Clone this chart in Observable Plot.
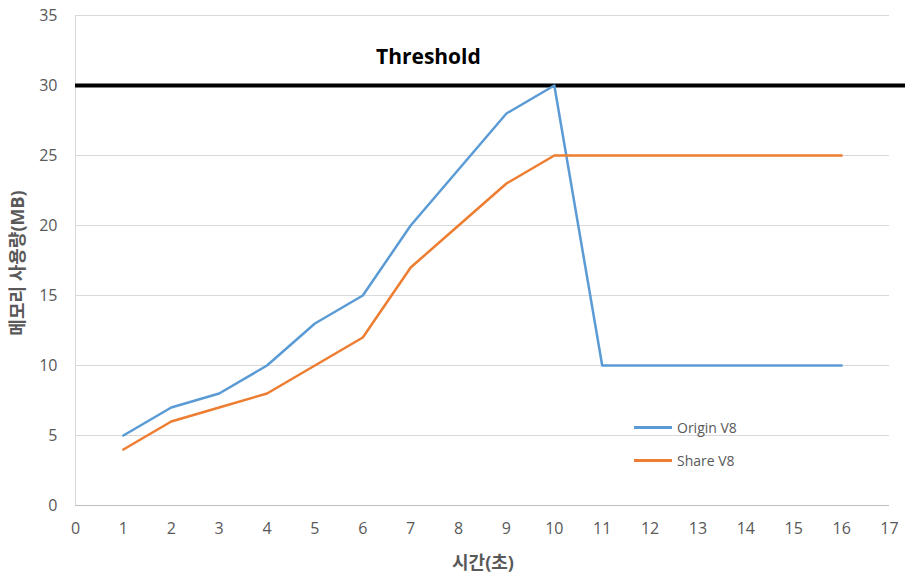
<!DOCTYPE html>
<html>
<head>
<meta charset="utf-8">
<script src="https://cdn.jsdelivr.net/npm/d3@7"></script>
<script src="https://cdn.jsdelivr.net/npm/@observablehq/plot@0.6"></script>
<style>
  html, body { margin: 0; padding: 0; background: #fff; }
  #wrap { position: relative; width: 905px; height: 577px; font-family: "Open Sans", "Noto Sans CJK KR", sans-serif; }
  #legend { position: absolute; left: 634px; top: 411px; font-size: 14px; color: #595959; }
  #legend .item { display: flex; align-items: center; height: 33px; }
  #legend .sw { width: 38px; height: 3px; margin-right: 5px; }
</style>
</head>
<body>
<div id="wrap"><div id="chart"></div><div id="legend"></div></div>
<script>
// Data
const seconds = [1, 2, 3, 4, 5, 6, 7, 8, 9, 10, 11, 12, 13, 14, 15, 16];
const originV8 = [5, 7, 8, 10, 13, 15, 20, 24, 28, 30, 10, 10, 10, 10, 10, 10];
const shareV8  = [4, 6, 7, 8, 10, 12, 17, 20, 23, 25, 25, 25, 25, 25, 25, 25];
const seriesNames = ["Origin V8", "Share V8"];
const seriesColors = ["#5B9BD5", "#ED7D31"];
const thresholdValue = [30];
const thresholdLabel = [{text: "Threshold", x: 7.37, y: 32}];
const xTicks = d3.range(0, 18);
const yTicks = [0, 5, 10, 15, 20, 25, 30, 35];
const xTitle = "시간(초)";
const yTitle = "메모리 사용량(MB)";

const rows = [];
seconds.forEach((s, i) => {
  rows.push({t: s, v: originV8[i], series: seriesNames[0]});
  rows.push({t: s, v: shareV8[i], series: seriesNames[1]});
});

const font = '"Open Sans", "Noto Sans CJK KR", sans-serif';

const chart = Plot.plot({
  width: 905,
  height: 577,
  marginLeft: 75,
  marginRight: 16,
  marginTop: 15,
  marginBottom: 72,
  style: {fontFamily: font, fontSize: "16px", color: "#595959", background: "#fff"},
  x: {domain: [0, 17], label: null},
  y: {domain: [0, 35], label: null},
  color: {domain: seriesNames, range: seriesColors},
  marks: [
    Plot.ruleY(yTicks.filter(d => d > 0), {stroke: "#d9d9d9", strokeWidth: 1}),
    Plot.ruleY([0], {stroke: "#bfbfbf", strokeWidth: 1}),
    Plot.ruleX([0], {stroke: "#d9d9d9", strokeWidth: 1}),
    Plot.axisX({ticks: xTicks, tickSize: 0, tickPadding: 17, fontSize: 16, fill: "#595959", label: null}),
    Plot.axisY({ticks: yTicks, tickSize: 0, tickPadding: 18, fontSize: 16, fill: "#595959", label: null}),
    Plot.ruleY(thresholdValue, {x1: 0, x2: 17.4, stroke: "#000", strokeWidth: 4}),
    Plot.line(rows, {x: "t", y: "v", z: "series", stroke: "series", strokeWidth: 2.5}),
    Plot.text(thresholdLabel, {x: "x", y: "y", text: "text", fontSize: 21, fontWeight: "bold", fill: "#000"})
  ]
});

const svg = d3.select(chart);
svg.append("text")
  .attr("x", 483).attr("y", 569)
  .attr("text-anchor", "middle")
  .attr("font-size", 18).attr("font-weight", "bold").attr("fill", "#595959")
  .text(xTitle);
svg.append("text")
  .attr("transform", "translate(24,263) rotate(-90)")
  .attr("text-anchor", "middle")
  .attr("font-size", 18).attr("font-weight", "bold").attr("fill", "#595959")
  .text(yTitle);

document.getElementById("chart").appendChild(chart);

const legend = d3.select("#legend");
seriesNames.forEach((n, i) => {
  const it = legend.append("div").attr("class", "item");
  it.append("div").attr("class", "sw").style("background", seriesColors[i]);
  it.append("span").text(n);
});
</script>
</body>
</html>
